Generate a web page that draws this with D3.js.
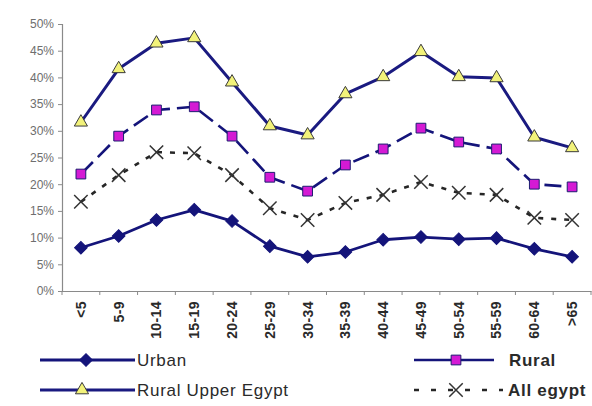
<!DOCTYPE html>
<html>
<head>
<meta charset="utf-8">
<script src="https://cdn.jsdelivr.net/npm/d3@7"></script>
<style>
  html, body { margin: 0; padding: 0; background: #fff; }
  svg { display: block; }
  text { font-family: "Liberation Sans", Arial, sans-serif; }
</style>
</head>
<body>
<svg id="chart" width="592" height="406"></svg>
<script>
// Age groups and the share (%) for each population group
const ageGroups = ["<5", "5-9", "10-14", "15-19", "20-24", "25-29", "30-34",
                   "35-39", "40-44", "45-49", "50-54", "55-59", "60-64", ">65"];
const urban           = [8.1, 10.3, 13.3, 15.2, 13.1, 8.4, 6.4, 7.3, 9.6, 10.1, 9.7, 9.9, 7.9, 6.4];
const rural           = [21.9, 29.0, 33.9, 34.5, 29.0, 21.3, 18.7, 23.6, 26.6, 30.5, 27.9, 26.6, 20.0, 19.5];
const ruralUpperEgypt = [31.6, 41.6, 46.4, 47.4, 39.1, 30.9, 29.2, 36.9, 40.1, 44.8, 40.1, 39.9, 28.8, 26.8];
const allEgypt        = [16.7, 21.7, 26.0, 25.8, 21.7, 15.5, 13.3, 16.5, 18.0, 20.4, 18.4, 18.0, 13.7, 13.3];
const yTicks = [0, 5, 10, 15, 20, 25, 30, 35, 40, 45, 50];

const series = [
  { name: "Urban", values: urban, stroke: "#14147a", width: 2.8, dash: null, legendDash: null,
    symbol: d3.symbolSquare, size: 80, rotate: 45, fill: "#14147a", mstroke: "#14147a", mwidth: 1 },
  { name: "Rural", values: rural, stroke: "#14147a", width: 2.6, dash: "17,7", legendDash: null,
    symbol: d3.symbolSquare, size: 95, rotate: 0, fill: "#d41ad4", mstroke: "#1c1c70", mwidth: 1 },
  { name: "Rural Upper Egypt", values: ruralUpperEgypt, stroke: "#1a1a80", width: 3, dash: null, legendDash: null,
    symbol: d3.symbolTriangle, size: 75, rotate: 0, fill: "#f2f27a", mstroke: "#3a3a3a", mwidth: 1 },
  { name: "All egypt", values: allEgypt, stroke: "#262626", width: 2.6, dash: "5,8", legendDash: "5,12",
    symbol: d3.symbolTimes, size: 120, rotate: 0, fill: "none", mstroke: "#333", mwidth: 1.5 }
];

const svg = d3.select("#chart");
const plotLeft = 62, plotRight = 591, plotTop = 24, plotBottom = 291;

const x = d3.scaleBand().domain(ageGroups).range([plotLeft, plotRight]).padding(0);
const y = d3.scaleLinear().domain([0, 50]).range([plotBottom, plotTop]);

// Y axis
const yAxis = svg.append("g")
  .attr("transform", `translate(${plotLeft},0)`)
  .call(d3.axisLeft(y).tickValues(yTicks).tickFormat(d => d + "%").tickSize(4).tickPadding(4));
yAxis.select(".domain").attr("stroke", "#8a8a8a").attr("stroke-width", 1.2);
yAxis.selectAll(".tick line").attr("stroke", "#8a8a8a");
yAxis.selectAll(".tick text")
  .attr("fill", "#6e6e6e").attr("font-size", 12)
  .attr("font-family", "'Liberation Sans', Arial, sans-serif");

// X axis: labels centred on each band, ticks on the band boundaries
const xAxis = svg.append("g")
  .attr("transform", `translate(0,${plotBottom})`)
  .call(d3.axisBottom(x).tickSize(0).tickPadding(0));
xAxis.select(".domain").attr("stroke", "#8a8a8a").attr("stroke-width", 1.2);
xAxis.selectAll(".tick text")
  .attr("transform", "rotate(-90)")
  .attr("text-anchor", "end")
  .attr("x", -10).attr("y", 0).attr("dy", "0.35em")
  .attr("fill", "#2a2a2a").attr("font-size", 14).attr("font-weight", "bold")
  .attr("letter-spacing", 0.4)
  .attr("font-family", "'Liberation Sans', Arial, sans-serif");
xAxis.selectAll(".boundary")
  .data(ageGroups.concat(["__end"]))
  .enter().append("line")
  .attr("class", "boundary")
  .attr("x1", (d, i) => i < ageGroups.length ? x(d) : x.range()[1])
  .attr("x2", (d, i) => i < ageGroups.length ? x(d) : x.range()[1])
  .attr("y1", 0).attr("y2", 4)
  .attr("stroke", "#8a8a8a");

const cx = d => x(d) + x.bandwidth() / 2;
const line = d3.line().x((v, i) => cx(ageGroups[i])).y(v => y(v));

// Series lines and markers
series.forEach(s => {
  const g = svg.append("g").attr("class", "series");
  g.append("path")
    .attr("d", line(s.values))
    .attr("fill", "none")
    .attr("stroke", s.stroke)
    .attr("stroke-width", s.width)
    .attr("stroke-dasharray", s.dash)
    .attr("stroke-linejoin", "round");
  g.selectAll("path.marker")
    .data(s.values)
    .enter().append("path")
    .attr("class", "marker")
    .attr("d", d3.symbol().type(s.symbol).size(s.size))
    .attr("transform", (v, i) => `translate(${cx(ageGroups[i])},${y(v)}) rotate(${s.rotate})`)
    .attr("fill", s.fill)
    .attr("stroke", s.mstroke)
    .attr("stroke-width", s.mwidth);
});

// Legend
const legendItems = [
  { s: series[0], x0: 40,  x1: 135, mx: 86,  tx: 137, row: 0, bold: false },
  { s: series[1], x0: 414, x1: 494, mx: 456, tx: 509, row: 0, bold: true },
  { s: series[2], x0: 40,  x1: 135, mx: 82,  tx: 137, row: 1, bold: false },
  { s: series[3], x0: 414, x1: 503, mx: 456, tx: 508, row: 1, bold: true }
];
const rowY = [360, 390];
const legend = svg.append("g").attr("class", "legend");
legendItems.forEach(it => {
  const ly = rowY[it.row];
  const g = legend.append("g");
  g.append("line")
    .attr("x1", it.x0).attr("x2", it.x1)
    .attr("y1", ly).attr("y2", ly)
    .attr("stroke", it.s.stroke)
    .attr("stroke-width", it.s.width)
    .attr("stroke-dasharray", it.s.legendDash);
  g.append("path")
    .attr("d", d3.symbol().type(it.s.symbol).size(it.s.size))
    .attr("transform", `translate(${it.mx},${ly}) rotate(${it.s.rotate})`)
    .attr("fill", it.s.fill)
    .attr("stroke", it.s.mstroke)
    .attr("stroke-width", it.s.mwidth);
  g.append("text")
    .attr("x", it.tx)
    .attr("y", ly)
    .attr("dy", "0.35em")
    .attr("font-size", 17)
    .attr("letter-spacing", 0.7)
    .attr("font-weight", it.bold ? "bold" : "normal")
    .attr("fill", "#2a2a2a")
    .text(it.s.name);
});
</script>
</body>
</html>
